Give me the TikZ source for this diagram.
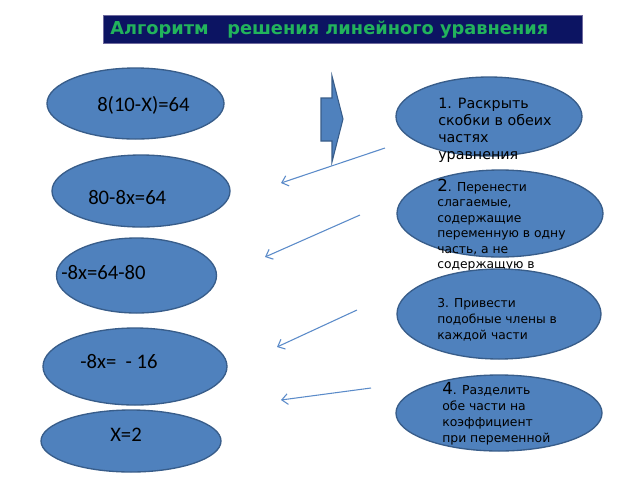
\documentclass[tikz,border=0pt]{standalone}
\usepackage{fontspec}
\setmainfont{DejaVu Sans}
\newfontfamily\eqfont{Carlito}
\newfontfamily\rtfont{DejaVu Sans}
\usetikzlibrary{shapes.geometric,arrows.meta}
\definecolor{shapeblue}{HTML}{4F81BD}
\definecolor{shapeborder}{HTML}{385D8A}
\definecolor{titlebg}{HTML}{0C1462}
\definecolor{titleborder}{HTML}{6F6A9E}
\definecolor{titlegreen}{HTML}{22B35C}
\definecolor{linkblue}{HTML}{5B8BC9}
\tikzset{
  ellbox/.style={ellipse, draw=shapeborder, fill=shapeblue, line width=1pt, inner sep=0pt},
  eqtext/.style={anchor=west, inner sep=0pt, font=\eqfont\fontsize{15.5}{18}\selectfont, text=black},
  steptext/.style={anchor=north west, inner sep=0pt, align=left, text=black},
  linkarrow/.style={draw=linkblue, line width=0.8pt, -{Straight Barb[length=4.5pt,width=8pt]}},
  blockarrow/.style={draw=shapeborder, fill=shapeblue, line width=0.8pt, line join=miter}
}
\begin{document}
\begin{tikzpicture}[x=0.75pt,y=-0.75pt]
\useasboundingbox (0,0) rectangle (640,480);
\fill[white] (0,0) rectangle (640,480);
% title
\node[draw=titleborder, fill=titlebg, line width=0.6pt, minimum width=359.25pt, minimum height=21pt, inner sep=0pt] (title) at (342.5,29) {};
\node[anchor=west, inner sep=0pt, text=titlegreen, font=\bfseries\fontsize{13.35}{15}\selectfont] (titletext) at (110,29.5) {Алгоритм \ \ решения линейного уравнения};
% left ellipses
\node[ellbox, minimum width=132.75pt, minimum height=53.25pt] (e1) at (135.5,103.5) {};
\node[eqtext] (t1) at (97,105) {8(10-X)=64};
\node[ellbox, minimum width=133.5pt, minimum height=54pt] (e2) at (141,191) {};
\node[eqtext] (t2) at (88,198) {80-8x=64};
\node[ellbox, minimum width=120pt, minimum height=56.25pt] (e3) at (136.5,275.5) {};
\node[eqtext] (t3) at (61,273) {-8x=64-80};
\node[ellbox, minimum width=138pt, minimum height=57.75pt] (e4) at (135,366.5) {};
\node[eqtext] (t4) at (80,362) {-8x= \ - 16};
\node[ellbox, minimum width=135pt, minimum height=46.5pt] (e5) at (131,441) {};
\node[eqtext] (t5) at (110,435) {X=2};
% right ellipses
\node[ellbox, minimum width=139.5pt, minimum height=59.25pt] (r1) at (489,116.5) {};
\node[steptext, font=\rtfont\fontsize{10.7}{12.75}\selectfont] (s1) at (438,98) {1. Раскрыть\\скобки в обеих\\частях\\уравнения};
\node[ellbox, minimum width=154.5pt, minimum height=65.25pt] (r2) at (500,213.5) {};
\node[steptext, font=\rtfont\fontsize{9.25}{11.6}\selectfont] (s2) at (437,178.5) {{\fontsize{12.5}{11.6}\selectfont 2}. Перенести\\слагаемые,\\содержащие\\переменную в одну\\часть, а не\\содержащую в};
\node[ellbox, minimum width=153pt, minimum height=67.5pt] (r3) at (499,314) {};
\node[steptext, font=\rtfont\fontsize{9.2}{12}\selectfont] (s3) at (437,298) {3. Привести\\подобные члены в\\каждой части};
\node[ellbox, minimum width=154.5pt, minimum height=57pt] (r4) at (499,413) {};
\node[steptext, font=\rtfont\fontsize{9.3}{12}\selectfont] (s4) at (442,382) {{\fontsize{12.5}{12}\selectfont 4}. Разделить\\обе части на\\коэффициент\\при переменной};
% block arrow
\coordinate (ba1) at (321,98);
\coordinate (ba2) at (332,98);
\coordinate (ba3) at (332,76);
\coordinate (ba4) at (343,119);
\coordinate (ba5) at (332,162);
\coordinate (ba6) at (332,141);
\coordinate (ba7) at (321,141);
\draw[blockarrow] (ba1) -- (ba2) -- (ba3) -- (ba4) -- (ba5) -- (ba6) -- (ba7) -- cycle;
% link arrows
\coordinate (a1s) at (385,148);
\coordinate (a1e) at (281,183);
\coordinate (a2s) at (360,215);
\coordinate (a2e) at (265,257);
\coordinate (a3s) at (357,310);
\coordinate (a3e) at (277,347);
\coordinate (a4s) at (371,388);
\coordinate (a4e) at (281,400);
\draw[linkarrow] (a1s) -- (a1e);
\draw[linkarrow] (a2s) -- (a2e);
\draw[linkarrow] (a3s) -- (a3e);
\draw[linkarrow] (a4s) -- (a4e);
\end{tikzpicture}
\end{document}
